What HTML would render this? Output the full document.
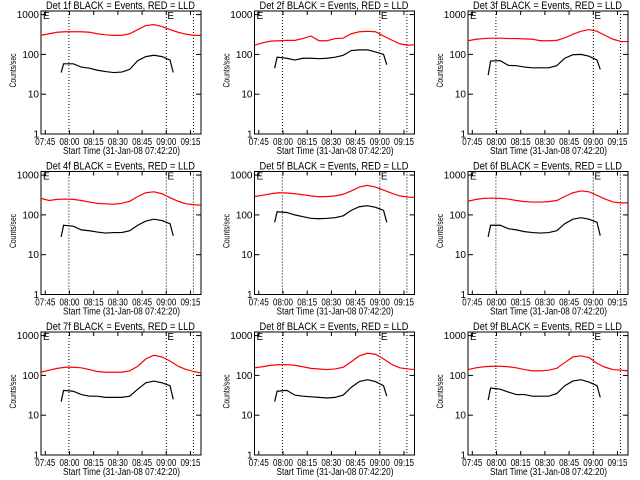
<!DOCTYPE html>
<html><head><meta charset="utf-8"><style>
html,body{margin:0;padding:0;background:#fff;width:640px;height:480px;overflow:hidden}
svg text{font-family:"Liberation Sans",sans-serif;fill:#000}
</style></head><body>
<svg id="c" width="640" height="480" xmlns="http://www.w3.org/2000/svg"></svg>
<script>
// minutes since 07:42:20
const redTimes=[0,5,10,15,20,25,30,35,40,45,50,55,60,65,70,75,80,85,90,95,99];
const blackTimes=[12.5,14,20,25,30,35,40,45,50,55,60,65,70,75,80,82];
const detNames=["1f","2f","3f","4f","5f","6f","7f","8f","9f"];
const red1=[300,330,360,370,370,370,360,330,310,300,300,330,420,530,560,500,420,360,320,300,300];
const red2=[170,195,215,220,225,225,250,290,220,220,250,255,330,370,380,370,290,230,185,170,175];
const red3=[220,240,250,255,255,250,250,245,240,220,220,225,260,320,380,420,380,300,240,210,210];
const red4=[260,230,245,250,245,230,210,195,190,185,195,220,290,360,380,340,270,220,190,180,175];
const red5=[290,310,340,360,355,340,320,300,285,290,300,330,400,500,550,500,420,350,300,280,275];
const red6=[220,245,260,265,260,250,230,215,210,210,215,230,290,360,400,380,310,250,210,200,200];
const red7=[120,135,150,160,160,155,140,125,120,120,120,130,170,260,320,290,230,170,140,125,115];
const red8=[155,165,180,185,185,180,165,150,145,140,145,160,220,310,360,340,260,190,155,145,140];
const red9=[140,155,165,170,170,165,155,140,130,130,135,150,210,290,310,280,200,160,140,135,130];
const black1=[35,58,58,48,45,40,37,35,36,42,70,88,95,88,72,35];
const black2=[45,85,80,72,80,80,78,80,85,95,125,130,130,115,100,55];
const black3=[30,68,70,53,52,48,46,46,46,52,80,98,100,90,72,42];
const black4=[28,55,52,42,40,37,35,36,36,40,55,70,78,72,60,30];
const black5=[65,120,115,100,90,82,80,82,85,95,130,160,170,155,130,65];
const black6=[28,55,55,45,42,38,36,35,36,40,60,78,85,78,65,30];
const black7=[22,42,40,33,30,30,28,28,28,30,45,65,72,65,55,25];
const black8=[22,40,42,32,30,29,28,27,28,32,50,70,78,70,55,30];
const black9=[24,48,45,38,33,33,30,30,30,35,55,72,78,68,55,28];
const xTickLabels=["07:45","08:00","08:15","08:30","08:45","09:00","09:15"];
const xTickMins=[2.67,17.67,32.67,47.67,62.67,77.67,92.67];
const yTickLabels=["1","10","100","1000"];
const yTickVals=[1,10,100,1000];
const dottedMins=[17.3,77.7,94.5];
const reds=[red1,red2,red3,red4,red5,red6,red7,red8,red9];
const blacks=[black1,black2,black3,black4,black5,black6,black7,black8,black9];

const svg=document.getElementById('c');const NS="http://www.w3.org/2000/svg";
function mk(t,a,p){const e=document.createElementNS(NS,t);for(const k in a)e.setAttribute(k,a[k]);(p||svg).appendChild(e);return e;}
const W=160,H=123,XMAX=99.2,LMAX=3.09;
for(let i=0;i<9;i++){
  const col=i%3,row=Math.floor(i/3);
  const ox=41+col*213.5,oy=11+row*160.5;
  const g=mk('g',{});
  
  
  const X=m=>ox+m/XMAX*W, Y=v=>oy+H*(1-Math.log10(v)/LMAX);
  const t=mk('text',{x:ox+5,y:oy-2,'font-size':'11',textLength:'149',lengthAdjust:'spacingAndGlyphs'},g);
  t.textContent='Det '+detNames[i]+' BLACK = Events, RED = LLD';
  
  
  const fr=mk('rect',{x:ox,y:oy,width:W,height:H,fill:'none',stroke:'#000','stroke-width':'1'},g);
  
  
  yTickVals.forEach((v,j)=>{
    const y=Y(v);
    mk('line',{x1:ox,x2:ox+5,y1:y,y2:y,stroke:'#000'},g);
    mk('line',{x1:ox+W,x2:ox+W-5,y1:y,y2:y,stroke:'#000'},g);
    const l=mk('text',{x:ox-2,y:y+3.5,'font-size':'10','text-anchor':'end'},g);
    l.textContent=yTickLabels[j];
    
    
  });
  xTickMins.forEach((m,j)=>{
    const x=X(m);
    mk('line',{x1:x,x2:x,y1:oy+H,y2:oy+H-4,stroke:'#000'},g);
    mk('line',{x1:x,x2:x,y1:oy,y2:oy+4,stroke:'#000'},g);
    const l=mk('text',{x:x-10,y:oy+H+11,'font-size':'10',textLength:'20',lengthAdjust:'spacingAndGlyphs'},g);
    l.textContent=xTickLabels[j];
    
    
  });
  const xt=mk('text',{x:ox+22,y:oy+H+20,'font-size':'10',textLength:'117',lengthAdjust:'spacingAndGlyphs'},g);
  xt.textContent='Start Time (31-Jan-08 07:42:20)';
  
  
  const yt=mk('text',{x:-17,y:0,'font-size':'9',textLength:'34',lengthAdjust:'spacingAndGlyphs',transform:`translate(${ox-25},${oy+H/2-2}) rotate(-90)`},g);
  yt.textContent='Counts/sec';
  
  
  dottedMins.forEach(m=>{
    const d=mk('line',{x1:X(m),x2:X(m),y1:oy,y2:oy+H,stroke:'#000','stroke-dasharray':'1,2'},g);
    
    
  });
  [[ox+2],[X(dottedMins[1])+1]].forEach(p=>{
    const e=mk('text',{x:p[0],y:oy+8,'font-size':'10'},g);
    e.textContent='E';
    
    
  });
  const rp=mk('polyline',{points:redTimes.map((m,k)=>X(m)+','+Y(reds[i][k])).join(' '),fill:'none',stroke:'#ff0000','stroke-width':'1.2'},g);
  
  
  const bp=mk('polyline',{points:blackTimes.map((m,k)=>X(m)+','+Y(blacks[i][k])).join(' '),fill:'none',stroke:'#000','stroke-width':'1.2'},g);
  
  
}
</script>
</body></html>
